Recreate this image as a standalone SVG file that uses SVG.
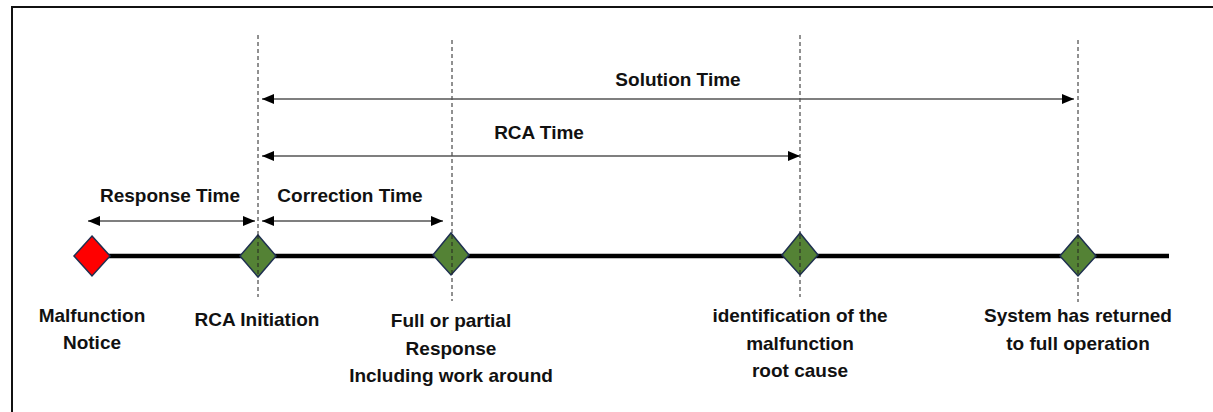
<svg xmlns="http://www.w3.org/2000/svg" width="1213" height="412" viewBox="0 0 1213 412">
<style>
text{font-family:"Liberation Sans",Arial,sans-serif;font-weight:bold;font-size:19px;fill:#111;text-anchor:middle}
.dash{stroke:#222;stroke-width:1;stroke-dasharray:4,3;fill:none}
.arr{stroke:#555;stroke-width:1.4;fill:none;marker-start:url(#ah);marker-end:url(#ah)}
.g{fill:#548235;stroke:#1f3050;stroke-width:1.5}
</style>
<defs>
<marker id="ah" viewBox="0 0 12 10" refX="12" refY="5" markerWidth="12" markerHeight="10" markerUnits="userSpaceOnUse" orient="auto-start-reverse">
<path d="M0,0 L12,5 L0,10 Z" fill="#000"/>
</marker>
</defs>
<rect width="1213" height="412" fill="#fff"/>
<path d="M12,412 V7 H1213" fill="none" stroke="#111" stroke-width="2"/>
<g id="connectors">
<line x1="92" y1="256" x2="1169" y2="256" stroke="#000" stroke-width="4.5"/>
<line class="dash" x1="258" y1="35" x2="258" y2="297"/>
<line class="dash" x1="452" y1="40" x2="452" y2="301"/>
<line class="dash" x1="800" y1="35" x2="800" y2="297"/>
<line class="dash" x1="1078" y1="40" x2="1078" y2="302"/>
<line class="arr" x1="262" y1="99" x2="1074" y2="99"/>
<line class="arr" x1="262" y1="156" x2="800" y2="156"/>
<line class="arr" x1="88" y1="221" x2="255" y2="221"/>
<line class="arr" x1="262" y1="221" x2="443" y2="221"/>
<text x="678" y="86">Solution Time</text>
<text x="539" y="139">RCA Time</text>
<text x="170" y="202">Response Time</text>
<text x="350" y="202">Correction Time</text>
</g>
<g id="malfunction-notice">
<path d="M92,236 L110,256 L92,276 L74,256 Z" fill="#ff0000" stroke="#1f3050" stroke-width="1.5"/>
<text x="92" y="322">Malfunction</text>
<text x="92" y="349">Notice</text>
</g>
<g id="rca-initiation">
<path class="g" d="M258,235 L276,256 L258,277 L240,256 Z"/>
<line class="dash" x1="258" y1="235" x2="258" y2="277"/>
<text x="257" y="326">RCA Initiation</text>
</g>
<g id="full-response">
<path class="g" d="M451,233 L469,255 L451,275 L433,255 Z"/>
<line class="dash" x1="452" y1="235" x2="452" y2="275"/>
<text x="451" y="327">Full or partial</text>
<text x="451" y="355">Response</text>
<text x="451" y="382">Including work around</text>
</g>
<g id="root-cause">
<path class="g" d="M800,233 L818,255 L800,275 L782,255 Z"/>
<line class="dash" x1="800" y1="235" x2="800" y2="275"/>
<text x="800" y="322">identification of the</text>
<text x="800" y="350">malfunction</text>
<text x="800" y="377">root cause</text>
</g>
<g id="full-operation">
<path class="g" d="M1078,235 L1096,256 L1078,276 L1060,256 Z"/>
<line class="dash" x1="1078" y1="235" x2="1078" y2="276"/>
<text x="1078" y="322">System has returned</text>
<text x="1078" y="350">to full operation</text>
</g>
</svg>
